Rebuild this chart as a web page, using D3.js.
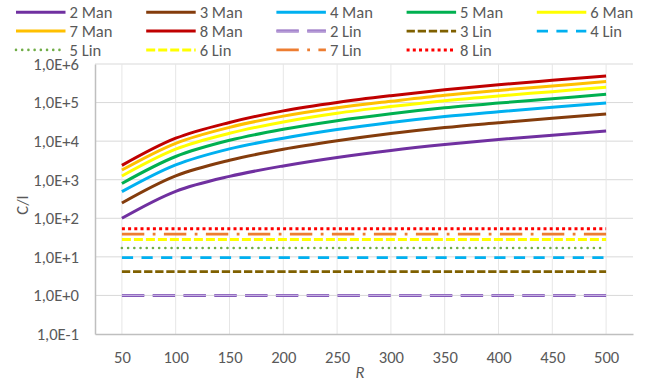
<!DOCTYPE html>
<html>
<head>
<meta charset="utf-8">
<script src="https://cdn.jsdelivr.net/npm/d3@7/dist/d3.min.js"></script>
<style>
  html, body { margin: 0; padding: 0; background: #fff; }
  svg { display: block; }
  text { font-family: Carlito, Calibri, Lato, "Open Sans", sans-serif; fill: #595959; }
</style>
</head>
<body>
<svg id="chart" width="655" height="385"></svg>
<script>
// Cell radius R (x axis categories)
const radii = [50, 100, 150, 200, 250, 300, 350, 400, 450, 500];

// C/I for the Manhattan layouts, one array per reuse factor
const man2 = [100, 500, 1220, 2280, 3780, 5750, 8150, 11000, 14300, 18200];
const man3 = [250, 1260, 3200, 6150, 10200, 15700, 22500, 30000, 39500, 50500];
const man4 = [490, 2420, 6300, 11900, 20000, 30500, 43500, 58000, 76000, 98000];
const man5 = [800, 4000, 10500, 20300, 34000, 51500, 73000, 97000, 126000, 164000];
const man6 = [1250, 6200, 16000, 31500, 53000, 79000, 112000, 149000, 192000, 250000];
const man7 = [1780, 8800, 22800, 44500, 73500, 108000, 155000, 207000, 270000, 350000];
const man8 = [2350, 11900, 30500, 61000, 101000, 151000, 215000, 290000, 378000, 490000];

// C/I for the linear layouts (independent of R)
const linNames = ["2 Lin", "3 Lin", "4 Lin", "5 Lin", "6 Lin", "7 Lin", "8 Lin"];
const linLevels = [1, 4.15, 9.5, 17, 28, 39, 53.5];

// Axis ticks
const yTickValues = [1e-1, 1e0, 1e1, 1e2, 1e3, 1e4, 1e5, 1e6];
const yTickLabels = ["1,0E-1", "1,0E+0", "1,0E+1", "1,0E+2", "1,0E+3", "1,0E+4", "1,0E+5", "1,0E+6"];
const xTickValues = [50, 100, 150, 200, 250, 300, 350, 400, 450, 500];

const manSeries = [
  { name: "2 Man", values: man2 },
  { name: "3 Man", values: man3 },
  { name: "4 Man", values: man4 },
  { name: "5 Man", values: man5 },
  { name: "6 Man", values: man6 },
  { name: "7 Man", values: man7 },
  { name: "8 Man", values: man8 }
];
const linSeries = linNames.map((name, i) => ({ name, values: radii.map(() => linLevels[i]) }));

// Line styles per series
const styles = {
  "2 Man": { color: "#7030A0", width: 3 },
  "3 Man": { color: "#843C0C", width: 3 },
  "4 Man": { color: "#00B0F0", width: 3 },
  "5 Man": { color: "#00B050", width: 3 },
  "6 Man": { color: "#FFFF00", width: 3 },
  "7 Man": { color: "#FFC000", width: 3 },
  "8 Man": { color: "#C00000", width: 3 },
  "2 Lin": { color: "#8458B8", width: 3, dash: "22.4 8.4", inner: "#C3AFE0" },
  "3 Lin": { color: "#7F6000", width: 2.8, dash: "8.3 2.8" },
  "4 Lin": { color: "#00B0F0", width: 2.8, dash: "11.2 8.4" },
  "5 Lin": { color: "#70AD47", width: 2.6, dash: "0.01 6.2", cap: "round" },
  "6 Lin": { color: "#FFFF00", width: 3, dash: "9 3" },
  "7 Lin": { color: "#ED7D31", width: 2.8, dash: "22.4 8.4 2.8 8.4" },
  "8 Lin": { color: "#FF0000", width: 3, dash: "3 3.2" }
};

const svg = d3.select("#chart");
const plot = { left: 95, right: 633, top: 64, bottom: 334 };
const fontSize = "16.6px";

const x = d3.scaleLinear().domain([25, 525]).range([plot.left, plot.right]);
const y = d3.scaleLog().domain([1e-1, 1e6]).range([plot.bottom, plot.top]);

// Gridlines
const grid = svg.append("g");
grid.selectAll("line.h").data(yTickValues.slice(1)).join("line")
  .attr("x1", plot.left).attr("x2", plot.right)
  .attr("y1", d => y(d)).attr("y2", d => y(d))
  .attr("stroke", "#D9D9D9").attr("stroke-width", 1);
grid.selectAll("line.v").data(xTickValues).join("line")
  .attr("x1", d => x(d)).attr("x2", d => x(d))
  .attr("y1", plot.top).attr("y2", plot.bottom)
  .attr("stroke", "#E6E6E6").attr("stroke-width", 1);

// Axes
const yAxis = d3.axisLeft(y).tickValues(yTickValues)
  .tickFormat((d, i) => yTickLabels[i]).tickSize(0).tickPadding(16);
const yg = svg.append("g").attr("transform", `translate(${plot.left},0)`).call(yAxis);
yg.select(".domain").attr("stroke", "#BFBFBF").attr("stroke-width", 1.5);
yg.selectAll("text").style("font-size", fontSize).attr("fill", "#595959");

const xAxis = d3.axisBottom(x).tickValues(xTickValues).tickSize(0).tickPadding(17);
const xg = svg.append("g").attr("transform", `translate(0,${plot.bottom})`).call(xAxis);
xg.select(".domain").attr("stroke", "#BFBFBF").attr("stroke-width", 1.5);
xg.selectAll("text").style("font-size", fontSize).attr("fill", "#595959");

// Axis titles
svg.append("text").attr("x", (plot.left + plot.right) / 2 - 4).attr("y", 378)
  .attr("text-anchor", "middle").style("font-size", fontSize).style("font-style", "italic")
  .text("R");
svg.append("text").attr("transform", "translate(22,205) rotate(-90)")
  .attr("text-anchor", "middle").attr("dominant-baseline", "central")
  .style("font-size", fontSize).text("C/I");

// Series
const smooth = d3.line().x((d, i) => x(radii[i])).y(d => y(d)).curve(d3.curveCatmullRom.alpha(0.5));
const straight = d3.line().x((d, i) => x(radii[i])).y(d => y(d));

function drawPath(g, pathData, st) {
  g.append("path").attr("d", pathData).attr("fill", "none")
    .attr("stroke", st.color).attr("stroke-width", st.width)
    .attr("stroke-dasharray", st.dash || null)
    .attr("stroke-linecap", st.cap || "butt")
    .attr("stroke-linejoin", "round");
  if (st.inner) {
    g.append("path").attr("d", pathData).attr("fill", "none")
      .attr("stroke", st.inner).attr("stroke-width", 1.2)
      .attr("stroke-dasharray", st.dash)
      .attr("stroke-linecap", "butt");
  }
}

const seriesG = svg.append("g");
manSeries.forEach(s => drawPath(seriesG, smooth(s.values), styles[s.name]));
linSeries.forEach(s => drawPath(seriesG, straight(s.values), styles[s.name]));

// Legend: 5 columns, 3 rows
const legendOrder = manSeries.map(s => s.name).concat(linNames);
const legend = svg.append("g");
legendOrder.forEach((name, i) => {
  const col = i % 5, row = Math.floor(i / 5);
  const lx = 16 + col * 130.2;
  const ly = 12.3 + row * 18.8;
  const g = legend.append("g");
  drawPath(g, `M${lx},${ly}H${lx + 49.5}`, styles[name]);
  g.append("text").attr("x", lx + 53.5).attr("y", ly).attr("dy", "0.36em")
    .style("font-size", fontSize).text(name);
});
</script>
</body>
</html>
